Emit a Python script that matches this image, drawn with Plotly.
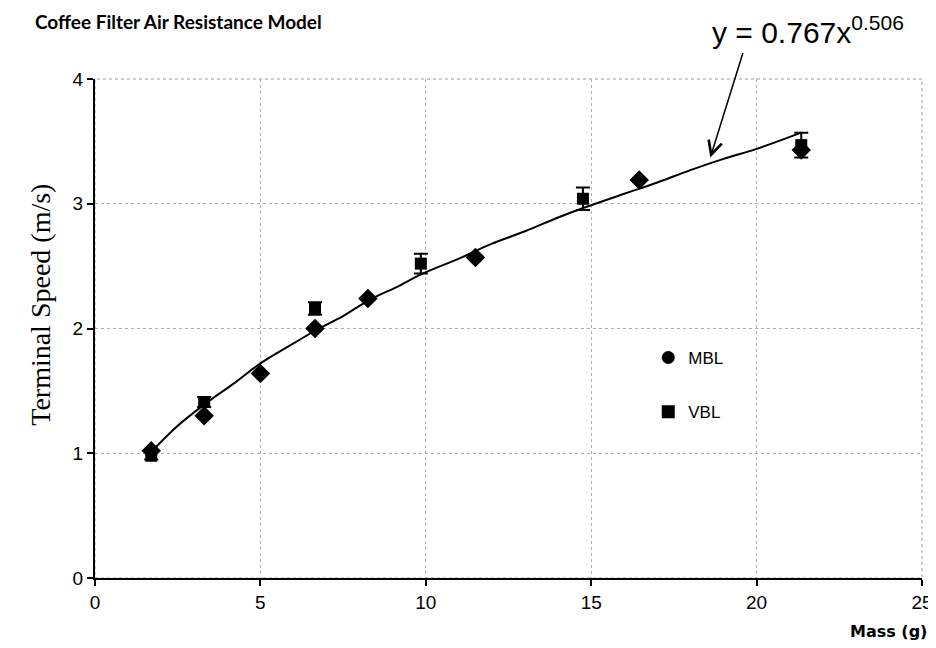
import plotly.graph_objects as go

# ---- data ----
mbl_mass = [1.7, 3.3, 5.0, 6.65, 8.25, 11.5, 16.45, 21.35]
mbl_speed = [1.02, 1.30, 1.64, 2.00, 2.24, 2.57, 3.19, 3.43]

vbl_mass = [1.7, 3.3, 6.65, 9.85, 14.75, 21.35]
vbl_speed = [0.98, 1.41, 2.16, 2.52, 3.04, 3.47]
vbl_err = [0.03, 0.04, 0.05, 0.08, 0.09, 0.10]

fit_mass = [1.7, 2.5, 3.3, 4.2, 5.0, 6.0, 6.7, 7.5, 8.3, 9.1, 9.9, 11.0,
            12.0, 13.0, 14.0, 14.8, 16.0, 17.0, 18.0, 19.0, 20.0, 21.35]
fit_speed = [1.01, 1.22, 1.39, 1.56, 1.72, 1.88, 1.99, 2.10, 2.23, 2.33, 2.44, 2.56,
             2.68, 2.78, 2.89, 2.97, 3.08, 3.17, 3.27, 3.36, 3.44, 3.57]

x_ticks = [0, 5, 10, 15, 20, 25]
y_ticks = [0, 1, 2, 3, 4]

title_text = "Coffee Filter Air Resistance Model"
equation_text = "y = 0.767x<sup>0.506</sup>"
arrow_tip = (18.6, 3.37)
arrow_tail = (19.6, 4.22)

TICK_FONT = "Liberation Sans Narrow, Liberation Sans, Arial, sans-serif"
SANS = "Liberation Sans, Arial, sans-serif"
TITLE_FONT = "Lato, Inter, Liberation Sans, sans-serif"

# page has an 8px body margin: figure is 928x640 placed at (8, 8)
W, H = 928, 640

fig = go.Figure()

fig.add_trace(go.Scatter(
    x=fit_mass, y=fit_speed, mode="lines", line=dict(color="black", width=2, shape="spline"),
    showlegend=False, hoverinfo="skip"))

fig.add_trace(go.Scatter(
    x=vbl_mass, y=vbl_speed, mode="markers",
    marker=dict(symbol="square", size=12, color="black"),
    error_y=dict(type="data", array=vbl_err, visible=True, color="black", thickness=2, width=7),
    showlegend=False, name="VBL"))

fig.add_trace(go.Scatter(
    x=mbl_mass, y=mbl_speed, mode="markers",
    marker=dict(symbol="diamond", size=15, color="black"),
    showlegend=False, name="MBL"))

# legend entries (symbols as in the reference legend)
fig.add_trace(go.Scatter(x=[None], y=[None], mode="markers", name="MBL",
                         marker=dict(symbol="circle", size=13, color="black"),
                         legendgroup="a"))
fig.add_trace(go.Scatter(x=[None], y=[None], mode="markers", name="VBL",
                         marker=dict(symbol="square", size=13, color="black"),
                         legendgroup="b"))

fig.update_layout(
    width=W, height=H,
    margin=dict(l=87, r=14, t=71, b=70, autoexpand=False),
    paper_bgcolor="white", plot_bgcolor="white",
    title=dict(text="<b>" + title_text + "</b>", x=27 / W, xref="container", xanchor="left",
               y=1 - 14 / H, yref="container", yanchor="middle",
               font=dict(family=TITLE_FONT, size=19, color="black")),
    legend=dict(x=0.669, y=0.477, xanchor="left", yanchor="top",
                bgcolor="rgba(0,0,0,0)", font=dict(family=SANS, size=17, color="black"),
                tracegroupgap=29, traceorder="grouped", itemwidth=30),
    showlegend=True,
)

# light frame (top/right) like the reference
fig.add_shape(type="rect", xref="paper", yref="paper", x0=0, y0=0, x1=1, y1=1,
              line=dict(color="#9a9a9a", width=1, dash="dot"), layer="below")

fig.update_xaxes(
    range=[0, 25], tickvals=x_ticks, ticks="outside", ticklen=6, tickwidth=1.5, tickcolor="black",
    showline=True, linecolor="black", linewidth=2, ticklabeloverflow="allow", automargin=False,
    showgrid=True, gridcolor="#b0b0b0", griddash="dot", gridwidth=1, zeroline=False,
    tickfont=dict(family=TICK_FONT, size=19, color="black"))
fig.update_yaxes(
    range=[0, 4], tickvals=y_ticks, ticks="outside", ticklen=6, tickwidth=1.5, tickcolor="black",
    showline=True, linecolor="black", linewidth=2, automargin=False,
    showgrid=True, gridcolor="#b0b0b0", griddash="dot", gridwidth=1, zeroline=False,
    tickfont=dict(family=TICK_FONT, size=19, color="black"))

fig.add_annotation(text="Terminal Speed (m/s)", xref="paper", yref="paper",
                   x=-0.088, y=0.547, textangle=-90, showarrow=False,
                   font=dict(family="Liberation Serif, Times New Roman, serif", size=28, color="black"))
fig.add_annotation(text="<b>Mass (g)</b>", xref="paper", yref="paper",
                   x=1.008, y=-0.108, xanchor="right", yanchor="middle", showarrow=False,
                   font=dict(family="DejaVu Sans, Liberation Sans, sans-serif", size=16, color="black"))
fig.add_annotation(text=equation_text, xref="paper", yref="paper",
                   x=0.862, y=1.098, xanchor="center", yanchor="middle", showarrow=False,
                   font=dict(family=SANS, size=30, color="black"))
fig.add_annotation(x=arrow_tip[0], y=arrow_tip[1], ax=arrow_tail[0], ay=arrow_tail[1],
                   xref="x", yref="y", axref="x", ayref="y", text="", showarrow=True,
                   arrowhead=5, arrowsize=1.8, arrowwidth=1.5, arrowcolor="black")

fig.write_html("out.html")
